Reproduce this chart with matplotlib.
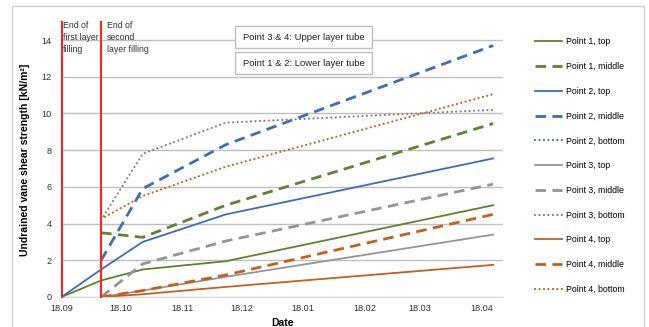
import numpy as np
import pandas as pd
import matplotlib
matplotlib.use('Agg')
import matplotlib.pyplot as plt
from matplotlib.patches import Rectangle

plt.rcParams['font.family'] = ['Liberation Sans', 'DejaVu Sans']

# measurement dates and values (kN/m2)
dates = pd.to_datetime(['2018-09-01', '2018-09-21', '2018-10-12', '2018-11-23', '2019-04-07'])
nan = np.nan
p1_top = [0, 0.9, 1.5, 1.95, 5.0]
p1_mid = [nan, 3.5, 3.25, 5.0, 9.45]
p2_top = [0, 1.5, 3.0, 4.5, 7.55]
p2_mid = [nan, 2.0, 5.9, 8.3, 13.7]
p2_bot = [nan, nan, nan, nan, nan]
p3_top = [nan, 0, 0.35, 1.1, 3.4]
p3_mid = [nan, 0, 1.8, 3.05, 6.15]
p3_bot = [nan, 4.2, 7.8, 9.5, 10.2]
p4_top = [nan, 0, 0.15, 0.55, 1.75]
p4_mid = [nan, 0, 0.35, 1.2, 4.5]
p4_bot = [nan, 4.25, 5.5, 7.1, 11.05]

tick_dates = pd.to_datetime(['2018-09-01', '2018-10-01', '2018-11-01', '2018-12-01',
                             '2019-01-01', '2019-02-01', '2019-03-01', '2019-04-01'])
tick_labels = ['18.09', '18.10', '18.11', '18.12', '18.01', '18.02', '18.03', '18.04']
fill_dates = pd.to_datetime(['2018-09-01', '2018-09-21'])
fill_labels = ['End of\nfirst layer\nfilling', 'End of\nsecond\nlayer filling']

W, H = 649, 327
def fx(px):
    return px / W
def fy(py):
    return 1 - py / H

green, blue, gray, orange = '#5E8231', '#3E6DB4', '#949494', '#C4601D'
solid = dict(lw=1.3)
dashed = dict(lw=2.0, dashes=(3.8, 2.3))
dotted = dict(lw=1.6, dashes=(0.01, 2.0), dash_capstyle='round')

series = [
    (p1_top, 'Point 1, top', green, solid),
    (p1_mid, 'Point 1, middle', green, dashed),
    (p2_top, 'Point 2, top', blue, solid),
    (p2_mid, 'Point 2, middle', blue, dashed),
    (p2_bot, 'Point 2, bottom', blue, dotted),
    (p3_top, 'Point 3, top', gray, solid),
    (p3_mid, 'Point 3, middle', gray, dashed),
    (p3_bot, 'Point 3, bottom', '#808080', dotted),
    (p4_top, 'Point 4, top', orange, solid),
    (p4_mid, 'Point 4, middle', orange, dashed),
    (p4_bot, 'Point 4, bottom', orange, dotted),
]

fig = plt.figure(figsize=(6.49, 3.27), dpi=100)
ax = fig.add_axes([fx(61.5), fy(297), fx(503) - fx(61.5), fy(21.7) - fy(297)])

for vals, label, color, style in series:
    ax.plot(dates, vals, color=color, label=label, **style)

for d in fill_dates:
    ax.axvline(d, color='#FF2020', lw=1.5, clip_on=False, zorder=5)

ax.set_xlim(pd.Timestamp('2018-09-01'), pd.Timestamp('2019-04-12'))
ax.set_ylim(0, 15)
ax.set_yticks(range(0, 15, 2))
ax.set_xticks(tick_dates)
ax.set_xticklabels(tick_labels)
ax.tick_params(length=0, labelsize=6.6, colors='#333333')
ax.tick_params(axis='y', pad=7)
ax.tick_params(axis='x', pad=5)
ax.yaxis.grid(True, color='#BFBFBF', lw=1)
ax.set_axisbelow(True)
for s in ['top', 'right', 'left']:
    ax.spines[s].set_visible(False)
ax.spines['bottom'].set_color('#D9D9D9')

# annotations next to the red lines
for px, txt in zip([63, 107], fill_labels):
    fig.text(fx(px), fy(20.5), txt, fontsize=6.3, color='#333333', va='top', ha='left',
             linespacing=1.45)

# tube boxes
for top, txt in [(26, 'Point 3 & 4: Upper layer tube'), (51.7, 'Point 1 & 2: Lower layer tube')]:
    fig.patches.append(Rectangle((fx(235), fy(top + 22.3)), fx(372) - fx(235), 22.3 / H,
                                 transform=fig.transFigure, facecolor='white',
                                 edgecolor='#BFBFBF', lw=1, zorder=3))
    fig.text(fx(243), fy(top + 11.5), txt, fontsize=6.8, color='#222222', va='center',
             ha='left', zorder=4)

ax.set_ylabel('Undrained vane shear strength [kN/m\u00b2]', fontsize=7.5, fontweight='bold')
ax.yaxis.set_label_coords(-(61.5 - 30) / 441.5, 0.5)
fig.text(fx(282), fy(323), 'Date', fontsize=7.5, fontweight='bold', ha='center', va='center')

fig.legend(loc='upper left', bbox_to_anchor=(fx(535), fy(37.5)), frameon=False,
           fontsize=6.3, handlelength=3.1, handletextpad=0.45, labelspacing=1.8,
           borderpad=0, borderaxespad=0)

# outer chart border
fig.patches.append(Rectangle((fx(11.5), -0.05), fx(644) - fx(11.5), fy(6) + 0.05,
                             transform=fig.transFigure, fill=False, edgecolor='#D0D0D0', lw=1))

fig.savefig('out.png', dpi=100)
